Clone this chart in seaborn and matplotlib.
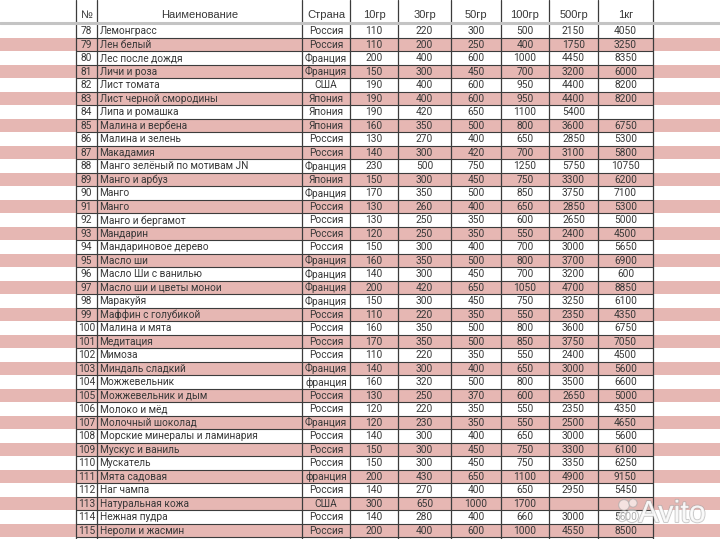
import numpy as np
import matplotlib
matplotlib.use("Agg")
import matplotlib.pyplot as plt
import matplotlib.patheffects as pe
from matplotlib.colors import ListedColormap
import seaborn as sns

# ── Data ──────────────────────────────────────────────────────────────────────
headers = ["№", "Наименование", "Страна", "10гр", "30гр", "50гр", "100гр", "500гр", "1кг"]

nums = list(range(78, 116))
names = [
    "Лемонграсс", "Лен белый", "Лес после дождя", "Личи и роза", "Лист томата",
    "Лист черной смородины", "Липа и ромашка", "Малина и вербена", "Малина и зелень",
    "Макадамия", "Манго зелёный по мотивам JN", "Манго и арбуз", "Манго", "Манго",
    "Манго и бергамот", "Мандарин", "Мандариновое дерево", "Масло ши",
    "Масло Ши с ванилью", "Масло ши и цветы монои", "Маракуйя", "Маффин с голубикой",
    "Малина и мята", "Медитация", "Мимоза", "Миндаль сладкий", "Можжевельник",
    "Можжевельник и дым", "Молоко и мёд", "Молочный шоколад",
    "Морские минералы и ламинария", "Мускус и ваниль", "Мускатель", "Мята садовая",
    "Наг чампа", "Натуральная кожа", "Нежная пудра", "Нероли и жасмин",
]
countries = [
    "Россия", "Россия", "Франция", "Франция", "США", "Япония", "Япония", "Япония",
    "Россия", "Россия", "Франция", "Япония", "Франция", "Россия", "Россия", "Россия",
    "Россия", "Франция", "Франция", "Франция", "Франция", "Россия", "Россия", "Россия",
    "Россия", "Франция", "франция", "Россия", "Россия", "Франция", "Россия", "Россия",
    "Россия", "франция", "Россия", "США", "Россия", "Россия",
]
p10 = [110, 110, 200, 150, 190, 190, 190, 160, 130, 140, 230, 150, 170, 130, 130, 120,
       150, 160, 140, 200, 150, 110, 160, 170, 110, 140, 160, 130, 120, 120, 140, 150,
       150, 200, 140, 300, 140, 200]
p30 = [220, 200, 400, 300, 400, 400, 420, 350, 270, 300, 500, 300, 350, 260, 250, 250,
       300, 350, 300, 420, 300, 220, 350, 350, 220, 300, 320, 250, 220, 230, 300, 300,
       300, 430, 270, 650, 280, 400]
p50 = [300, 250, 600, 450, 600, 600, 650, 500, 400, 420, 750, 450, 500, 400, 350, 350,
       400, 500, 450, 650, 450, 350, 500, 500, 350, 400, 500, 370, 350, 350, 400, 450,
       450, 650, 400, 1000, 400, 600]
p100 = [500, 400, 1000, 700, 950, 950, 1100, 800, 650, 700, 1250, 750, 850, 650, 600, 550,
        700, 800, 700, 1050, 750, 550, 800, 850, 550, 650, 800, 600, 550, 550, 650, 750,
        750, 1100, 650, 1700, 660, 1000]
p500 = [2150, 1750, 4450, 3200, 4400, 4400, 5400, 3600, 2850, 3100, 5750, 3300, 3750, 2850,
        2650, 2400, 3000, 3700, 3200, 4700, 3250, 2350, 3600, 3750, 2400, 3000, 3500, 2650,
        2350, 2500, 3000, 3300, 3350, 4900, 2950, None, 3000, 4550]
p1kg = [4050, 3250, 8350, 6000, 8200, 8200, None, 6750, 5300, 5800, 10750, 6200, 7100, 5300,
        5000, 4500, 5650, 6900, 600, 8850, 6100, 4350, 6750, 7050, 4500, 5600, 6600, 5000,
        4350, 4650, 5600, 6100, 6250, 9150, 5450, None, 5600, 8500]

# ── Layout (pixels) ───────────────────────────────────────────────────────────
W, H = 720, 539
TOP = 24.2          # top of first data row
RH = 13.5           # row height
EDGES = [76, 97, 302, 350, 398, 451, 501, 549, 598, 653]
PINK = "#E6B7B3"
TXT = "#383838"
FS = 7.3

sns.set_theme(style="white")
plt.rcParams["font.family"] = ["Roboto", "DejaVu Sans"]

n = len(nums)
fig = plt.figure(figsize=(W / 100, H / 100), dpi=100)

# striped background rows via seaborn heatmap
stripe = (np.array(nums) % 2 == 1).astype(int).reshape(-1, 1)
ax_bg = fig.add_axes([0, 1 - (TOP + n * RH) / H, 1, n * RH / H])
sns.heatmap(stripe, ax=ax_bg, cmap=ListedColormap(["white", PINK]), cbar=False,
            xticklabels=False, yticklabels=False, linewidths=0)
ax_bg.set_axis_off()

# overlay for grid and text
ax = fig.add_axes([0, 0, 1, 1])
ax.patch.set_alpha(0)
ax.set_xlim(0, W)
ax.set_ylim(H, 0)
ax.set_axis_off()

# grid lines
for i in range(1, n + 2):
    y = TOP + i * RH
    ax.plot([EDGES[0], EDGES[-1]], [y, y], color="#3c3c3c", lw=0.8, zorder=2)
ax.plot([0, W], [23.2, 23.2], color="#c4c4c4", lw=2.2, zorder=3)
for x in EDGES:
    ax.plot([x, x], [0, H], color="#3c3c3c", lw=0.9, zorder=2)

centers = [(a + b) / 2 for a, b in zip(EDGES[:-1], EDGES[1:])]

# header
for j, h in enumerate(headers):
    ax.text(centers[j], 15.5, h, ha="center", va="center", fontsize=8, color=TXT,
            family=["Liberation Sans", "DejaVu Sans"], zorder=4)

# rows
cols = [p10, p30, p50, p100, p500, p1kg]
for i in range(n):
    y = TOP + (i + 0.5) * RH + 0.3
    ax.text(centers[0], y, str(nums[i]), ha="center", va="center", fontsize=FS, color=TXT, zorder=4)
    ax.text(EDGES[1] + 2.5, y, names[i], ha="left", va="center", fontsize=FS, color=TXT, zorder=4)
    ax.text(centers[2], y, countries[i], ha="center", va="center", fontsize=FS, color=TXT, zorder=4)
    for k, c in enumerate(cols):
        if c[i] is not None:
            ax.text(centers[3 + k], y, str(c[i]), ha="center", va="center", fontsize=FS,
                    color=TXT, zorder=4)

# watermark
wm = ax.text(672, 514, "Avito", ha="center", va="center", fontsize=22, color="white",
             alpha=0.6, family=["Liberation Sans", "DejaVu Sans"], zorder=5)
wm.set_path_effects([pe.withStroke(linewidth=1.4, foreground="#a8a8a8"), pe.Normal()])
ax.scatter([624, 633, 622, 632], [505, 503, 517, 516], s=[60, 35, 45, 90],
           color="white", edgecolor="#a8a8a8", lw=0.8, alpha=0.6, zorder=5)

fig.savefig("out.png", dpi=100)
